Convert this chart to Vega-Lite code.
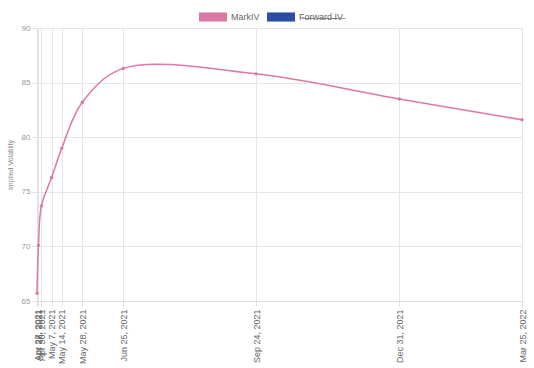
{
  "$schema": "https://vega.github.io/schema/vega-lite/v6.json",
  "width": 534,
  "height": 368,
  "autosize": {"type": "fit", "contains": "padding"},
  "padding": {"left": 6, "right": 7, "top": 24, "bottom": 4},
  "config": {
    "font": "Liberation Sans",
    "view": {"stroke": null},
    "axis": {"labelColor": "#666", "titleColor": "#888", "labelFont": "Liberation Sans", "titleFont": "Liberation Sans", "gridColor": "#e6e6e6", "domainColor": "#e0e0e0", "tickColor": "#e0e0e0"}
  },
  "data": {
    "values": [
      {"date": "2021-04-27", "iv": 65.7, "series": "MarkIV"},
      {"date": "2021-04-28", "iv": 70.1, "series": "MarkIV"},
      {"date": "2021-04-30", "iv": 73.7, "series": "MarkIV"},
      {"date": "2021-05-07", "iv": 76.3, "series": "MarkIV"},
      {"date": "2021-05-14", "iv": 79.0, "series": "MarkIV"},
      {"date": "2021-05-28", "iv": 83.2, "series": "MarkIV"},
      {"date": "2021-06-25", "iv": 86.3, "series": "MarkIV"},
      {"date": "2021-09-24", "iv": 85.8, "series": "MarkIV"},
      {"date": "2021-12-31", "iv": 83.5, "series": "MarkIV"},
      {"date": "2022-03-25", "iv": 81.6, "series": "MarkIV"}
    ]
  },
  "encoding": {
    "x": {
      "field": "date", "type": "temporal",
      "scale": {"type": "utc", "nice": false},
      "axis": {
        "title": null,
        "values": [
          {"year": 2021, "month": 4, "date": 27, "utc": true},
          {"year": 2021, "month": 4, "date": 28, "utc": true},
          {"year": 2021, "month": 4, "date": 30, "utc": true},
          {"year": 2021, "month": 5, "date": 7, "utc": true},
          {"year": 2021, "month": 5, "date": 14, "utc": true},
          {"year": 2021, "month": 5, "date": 28, "utc": true},
          {"year": 2021, "month": 6, "date": 25, "utc": true},
          {"year": 2021, "month": 9, "date": 24, "utc": true},
          {"year": 2021, "month": 12, "date": 31, "utc": true},
          {"year": 2022, "month": 3, "date": 25, "utc": true}
        ],
        "format": "%b %-d, %Y",
        "labelAngle": -90,
        "labelAlign": "right",
        "labelBaseline": "middle",
        "labelOverlap": false,
        "labelFontSize": 9,
        "labelPadding": 3,
        "tickSize": 5,
        "grid": true
      }
    },
    "y": {
      "field": "iv", "type": "quantitative",
      "scale": {"domain": [65, 90], "nice": false, "zero": false},
      "axis": {"title": "Implied Volatility", "titleFontSize": 7, "titleFontWeight": "normal", "values": [65, 70, 75, 80, 85, 90], "labelFontSize": 8, "labelColor": "#999", "tickSize": 5, "grid": true, "titlePadding": 8}
    },
    "color": {
      "field": "series", "type": "nominal",
      "scale": {"domain": ["MarkIV", "Forward IV"], "range": ["#dc78a6", "#2b4ea2"]},
      "legend": {
        "title": null, "orient": "none", "legendX": 162, "legendY": -18, "direction": "horizontal",
        "symbolType": "M-1,-0.65h4v1.3h-4z", "symbolSize": 196, "symbolStrokeWidth": 0, "symbolOpacity": 1,
        "labelFontSize": 9, "labelColor": "#666", "labelOffset": 18, "columnPadding": 7,
        "labelExpr": "datum.label == 'Forward IV' ? 'F̶o̶r̶w̶a̶r̶d̶ ̶I̶V̶' : datum.label"
      }
    }
  },
  "layer": [
    {"mark": {"type": "line", "interpolate": "catmull-rom", "strokeWidth": 1.5}},
    {"mark": {"type": "point", "filled": true, "size": 12, "opacity": 1}}
  ]
}
